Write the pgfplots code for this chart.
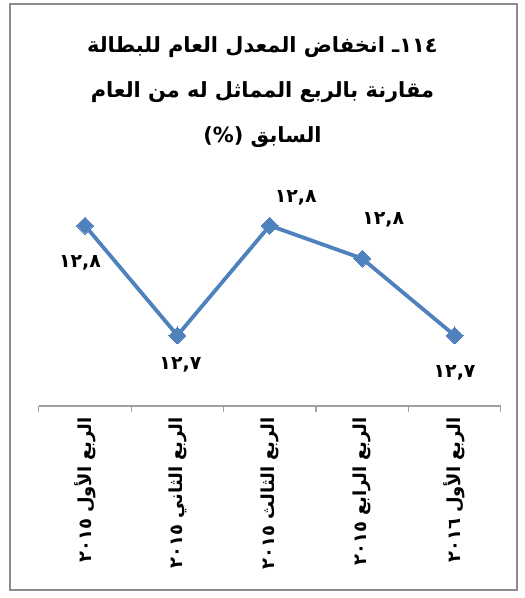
\documentclass[border=0pt]{standalone}
\usepackage{pgfplots}
\usepackage{pgfplotstable}
\pgfplotsset{compat=1.18}
\usepackage{fontspec}
\TeXXeTstate=1
\newfontfamily\arabicfont[Script=Arabic]{DejaVu Sans}
\definecolor{serie}{HTML}{4F81BD}
\definecolor{framegray}{HTML}{8C8C8C}
\definecolor{axisgray}{HTML}{A0A0A0}

\pgfplotstableread{
x y dx dy lab
0 12.80 -5 -37 ١٢,٨
1 12.70 3 -29 ١٢,٧
2 12.80 26 28 ١٢,٨
3 12.77 21 39 ١٢,٨
4 12.70 0 -37 ١٢,٧
}\data

\begin{document}
\begin{tikzpicture}[x=1bp,y=1bp]
\path[use as bounding box] (0,0) rectangle (525,598);
\draw[framegray, line width=2bp] (10,8) rectangle (517,594);
\node[align=center, font=\arabicfont\bfseries\fontsize{21}{45}\selectfont] at (262.5,506)
 {\beginR ١١٤ـ انخفاض المعدل العام للبطالة\endR\\
  \beginR مقارنة بالربع المماثل له من العام\endR\\
  \beginR السابق (\%)\endR};
\begin{axis}[
  at={(42,175)}, anchor=south west,
  scale only axis, width=462bp, height=223bp,
  xmin=-0.5, xmax=4.5, ymin=12.636, ymax=12.839,
  axis y line=none, axis x line*=bottom,
  axis line style={axisgray, line width=1.5bp},
  xtick={0,...,4},
  xticklabels={{\beginR الربع الأول ٢٠١٥\endR},{\beginR الربع الثاني ٢٠١٥\endR},{\beginR الربع الثالث ٢٠١٥\endR},{\beginR الربع الرابع ٢٠١٥\endR},{\beginR الربع الأول ٢٠١٦\endR}},
  major tick length=0pt,
  minor xtick={-0.5,0.5,1.5,2.5,3.5,4.5},
  minor tick length=6bp,
  tick align=outside,
  minor tick style={axisgray, line width=1.2bp},
  xticklabel shift=8bp,
  xticklabel style={rotate=90, anchor=east, font=\arabicfont\bfseries\fontsize{18}{20}\selectfont},
  clip=false,
]
\addplot[color=serie, line width=3.8bp, mark=square*, mark size=6bp, mark options={rotate=45, fill=serie, draw=serie, line width=0pt}] table[x=x,y=y]{\data};
\addplot[draw=none, mark=none, nodes near coords, point meta=explicit symbolic,
  visualization depends on={\thisrow{dx} \as \dx},
  visualization depends on={\thisrow{dy} \as \dy},
  every node near coord/.append style={anchor=center, xshift=\dx bp, yshift=\dy bp, font=\arabicfont\bfseries\fontsize{19}{22}\selectfont, text=black}]
  table[x=x,y=y,meta=lab]{\data};
\end{axis}
\end{tikzpicture}
\end{document}
